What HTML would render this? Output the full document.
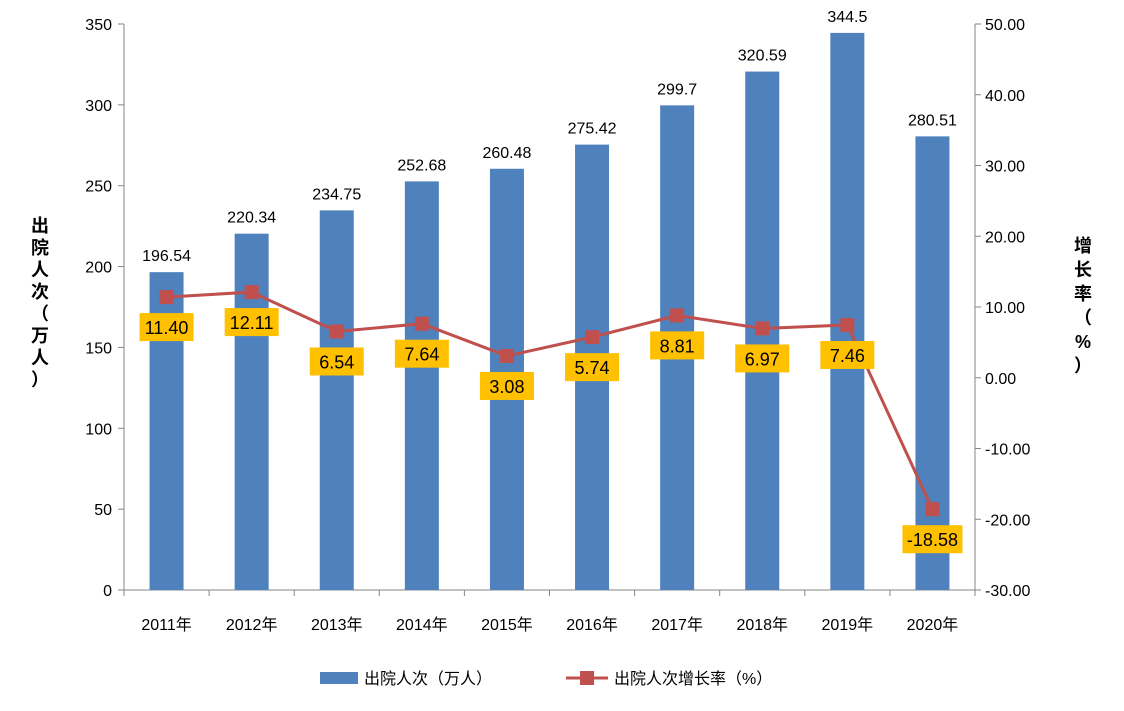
<!DOCTYPE html>
<html><head><meta charset="utf-8"><style>
body{margin:0;background:#fff;}
svg{display:block;font-family:"Liberation Sans","Noto Sans CJK SC",sans-serif;}
</style></head><body>
<svg id="chart" width="1124" height="711" viewBox="0 0 1124 711"></svg>
<script>
const categories=["2011年","2012年","2013年","2014年","2015年","2016年","2017年","2018年","2019年","2020年"];
const dischargeValues=[196.54,220.34,234.75,252.68,260.48,275.42,299.7,320.59,344.5,280.51];
const growthValues=[11.40,12.11,6.54,7.64,3.08,5.74,8.81,6.97,7.46,-18.58];
const leftTicks=[0,50,100,150,200,250,300,350];
const rightTicks=[-30,-20,-10,0,10,20,30,40,50];

const svg=document.getElementById('chart');
const NS='http://www.w3.org/2000/svg';
const X0=124,X1=975,YT=24,YB=590;
const yL=v=>YB-(v-0)/(350-0)*(YB-YT);
const yR=v=>YB-(v+30)/80*(YB-YT);
const band=(X1-X0)/categories.length;
const xC=i=>X0+band*(i+0.5);
function mk(tag,attrs,parent){const e=document.createElementNS(NS,tag);for(const k in attrs)e.setAttribute(k,attrs[k]);(parent||svg).appendChild(e);return e;}
function txt(s,attrs){const e=mk('text',attrs);e.textContent=s;return e;}

// axes
let a=mk('line',{x1:X0,y1:YT,x2:X0,y2:YB,stroke:'#868686'});


a=mk('line',{x1:X1,y1:YT,x2:X1,y2:YB,stroke:'#868686'});


a=mk('line',{x1:X0,y1:YB,x2:X1,y2:YB,stroke:'#868686'});



leftTicks.forEach(v=>{
  mk('line',{x1:X0-6,y1:yL(v),x2:X0,y2:yL(v),stroke:'#868686'});
  const t=txt(String(v),{x:X0-12,y:yL(v)+6,'text-anchor':'end','font-size':16,fill:'#000'});
  
  
});
rightTicks.forEach(v=>{
  mk('line',{x1:X1,y1:yR(v),x2:X1+6,y2:yR(v),stroke:'#868686'});
  const t=txt(v.toFixed(2),{x:X1+10,y:yR(v)+6,'font-size':16,fill:'#000'});
  
  
});
for(let i=0;i<=categories.length;i++){mk('line',{x1:X0+band*i,y1:YB,x2:X0+band*i,y2:YB+6,stroke:'#868686'});}
categories.forEach((c,i)=>{
  const t=txt(c,{x:xC(i),y:YB+40,'text-anchor':'middle','font-size':16,fill:'#000'});
  
  
});

// bars
const BW=34;
dischargeValues.forEach((v,i)=>{
  const r=mk('rect',{x:xC(i)-BW/2,y:yL(v),width:BW,height:YB-yL(v),fill:'#4f81bd'});
  
  
  const t=txt(String(v),{x:xC(i),y:yL(v)-11,'text-anchor':'middle','font-size':16,fill:'#000'});
  
  
});

// line
const pts=growthValues.map((v,i)=>xC(i)+','+yR(v)).join(' ');
const pl=mk('polyline',{points:pts,fill:'none',stroke:'#c0504d','stroke-width':3});


growthValues.forEach((v,i)=>{
  const m=mk('rect',{x:xC(i)-7,y:yR(v)-7,width:14,height:14,fill:'#c0504d'});
  
  
});
growthValues.forEach((v,i)=>{
  const cy=yR(v)+30;
  const s=v.toFixed(2);
  const w=s.length>5?60:54;
  const b=mk('rect',{x:xC(i)-w/2,y:cy-14,width:w,height:28,fill:'#ffc000'});
  
  
  const t=txt(s,{x:xC(i),y:cy+7,'text-anchor':'middle','font-size':18,fill:'#000'});
  
  
});

// axis titles
const lt=mk('g',{});


"出院人次（万人）".split('').forEach((ch,i)=>{const t=mk('text',{x:40,y:232+i*22,'text-anchor':'middle','font-size':18,'font-weight':'bold',fill:'#000'},lt);t.textContent=ch;});
const rt=mk('g',{});


"增长率（%）".split('').forEach((ch,i)=>{const t=mk('text',{x:1083,y:252+i*24,'text-anchor':'middle','font-size':18,'font-weight':'bold',fill:'#000'},rt);t.textContent=ch;});

// legend
const lg=mk('g',{});


const l1=mk('rect',{x:320,y:672,width:38,height:12,fill:'#4f81bd'},lg);


let lt1=mk('text',{x:364,y:684,'font-size':16,fill:'#000'},lg);lt1.textContent='出院人次（万人）';


mk('line',{x1:566,y1:678,x2:608,y2:678,stroke:'#c0504d','stroke-width':3},lg);
const l2=mk('rect',{x:580,y:671,width:14,height:14,fill:'#c0504d'},lg);


let lt2=mk('text',{x:614,y:684,'font-size':16,fill:'#000'},lg);lt2.textContent='出院人次增长率（%）';


</script>
</body></html>
